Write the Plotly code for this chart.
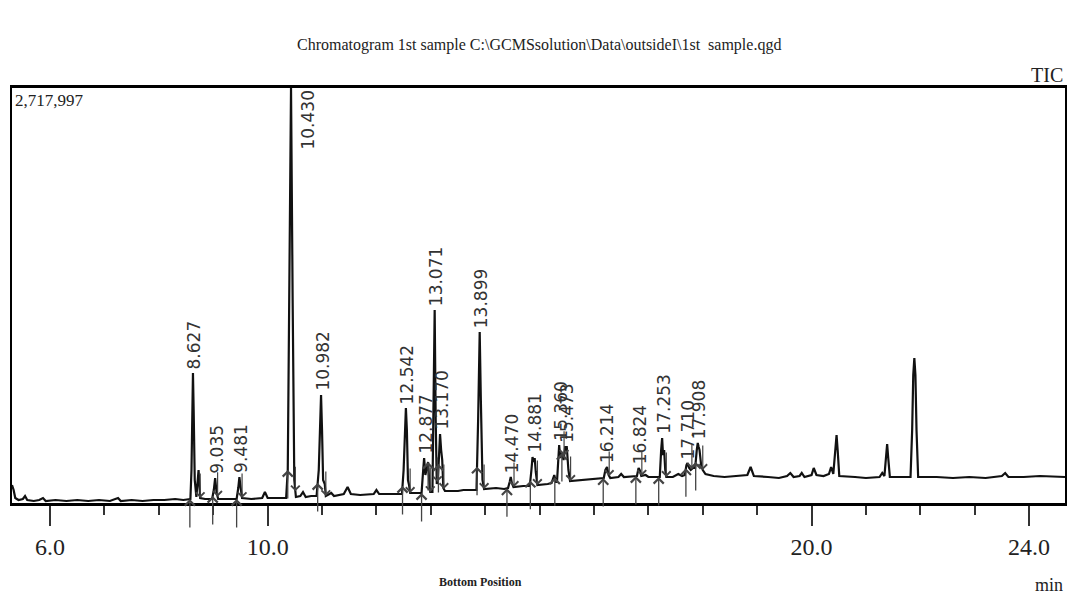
import numpy as np
import plotly.graph_objects as go

# ---------------- data ----------------
rt_min = [5.30, 5.33, 5.36, 5.42, 5.50, 5.54, 5.58, 5.70, 5.80, 5.87, 5.92, 6.10, 6.30, 6.50, 6.70,
          6.90, 7.10, 7.25, 7.30, 7.50, 7.70, 7.90, 8.10, 8.30, 8.45, 8.58, 8.60, 8.615, 8.627, 8.64,
          8.66, 8.69, 8.73, 8.76, 8.85, 8.98, 9.01, 9.035, 9.06, 9.09, 9.25, 9.43, 9.46, 9.481, 9.50,
          9.53, 9.70, 9.90, 9.95, 10.00, 10.25, 10.34, 10.37, 10.40, 10.43, 10.46, 10.49, 10.52, 10.60,
          10.65, 10.70, 10.80, 10.90, 10.94, 10.96, 10.982, 11.00, 11.02, 11.05, 11.07, 11.17, 11.22,
          11.40, 11.47, 11.53, 11.70, 11.95, 12.00, 12.05, 12.30, 12.47, 12.50, 12.525, 12.542, 12.56,
          12.58, 12.60, 12.62, 12.75, 12.83, 12.86, 12.877, 12.90, 12.95, 12.97, 12.99, 13.03, 13.05,
          13.071, 13.09, 13.11, 13.13, 13.155, 13.17, 13.19, 13.21, 13.23, 13.26, 13.50, 13.60, 13.70,
          13.84, 13.87, 13.899, 13.92, 13.95, 13.98, 14.20, 14.35, 14.42, 14.45, 14.47, 14.49, 14.52,
          14.70, 14.82, 14.85, 14.87, 14.89, 14.91, 14.93, 14.96, 15.15, 15.22, 15.27, 15.30, 15.32,
          15.345, 15.36, 15.38, 15.41, 15.44, 15.47, 15.50, 15.53, 15.56, 15.80, 16.00, 16.18, 16.21,
          16.24, 16.27, 16.30, 16.45, 16.50, 16.55, 16.70, 16.79, 16.82, 16.84, 16.87, 16.95, 17.00,
          17.10, 17.21, 17.235, 17.253, 17.27, 17.29, 17.31, 17.33, 17.45, 17.55, 17.62, 17.67, 17.70,
          17.72, 17.75, 17.78, 17.82, 17.86, 17.89, 17.908, 17.925, 17.94, 17.97, 18.00, 18.05, 18.20,
          18.40, 18.60, 18.82, 18.88, 18.94, 19.20, 19.40, 19.55, 19.61, 19.67, 19.78, 19.82, 19.87,
          20.00, 20.04, 20.09, 20.22, 20.32, 20.36, 20.40, 20.44, 20.46, 20.48, 20.51, 20.80, 21.00,
          21.25, 21.30, 21.34, 21.37, 21.39, 21.41, 21.44, 21.60, 21.82, 21.85, 21.87, 21.89, 21.91,
          21.93, 21.96, 22.30, 22.60, 22.90, 23.20, 23.50, 23.56, 23.62, 23.90, 24.20, 24.50, 24.66]

tic_counts = [117900, 85100, 32700, 19600, 26200, 45800, 19600, 13100, 19600, 32700, 13100, 19600, 13100, 19600, 13100,
              19600, 13100, 32700, 13100, 19600, 13100, 19600, 19600, 26200, 19600, 26200, 216100, 674500, 851400, 609100,
              150600, 39300, 216100, 32700, 26200, 26200, 85100, 163700, 72000, 26200, 26200, 26200, 98200, 170300, 111300,
              32700, 26200, 32700, 72000, 32700, 32700, 32700, 216100, 1656900, 2717997, 1329400, 150600, 39300, 45800,
              72000, 39300, 45800, 45800, 216100, 543600, 707300, 478100, 150600, 124400, 45800, 65500, 45800,
              58900, 104800, 58900, 52400, 58900, 85100, 58900, 58900, 58900, 216100, 543600, 622200, 478100,
              150600, 117900, 65500, 65500, 65500, 216100, 294700, 183400, 268500, 150600, 72000, 72000, 674500,
              1264000, 543600, 124400, 150600, 412600, 451900, 347100, 281600, 98200, 78600, 78600, 85100, 85100,
              85100, 543600, 1119900, 674500, 150600, 91700, 98200, 91700, 98200, 137500, 170300, 131000, 104800,
              111300, 111300, 216100, 301300, 268500, 294700, 203000, 117900, 124400, 131000, 183400, 137500, 137500,
              314400, 379800, 294700, 327500, 281600, 366700, 366700, 216100, 144100, 150600, 157200, 163700, 216100,
              235800, 183400, 163700, 170300, 189900, 170300, 176800, 176800, 229200, 216100, 176800, 183400, 170300,
              170300, 170300, 347100, 425700, 314400, 347100, 216100, 170300, 170300, 189900, 176800, 183400, 248900,
              262000, 229200, 216100, 229200, 229200, 347100, 392900, 366700, 347100, 248900, 216100, 189900, 176800,
              170300, 176800, 183400, 235800, 176800, 170300, 163700, 176800, 196500, 170300, 176800, 196500, 170300,
              183400, 229200, 183400, 176800, 189900, 235800, 189900, 347100, 445300, 347100, 176800, 170300, 163700,
              170300, 196500, 176800, 281600, 386400, 294700, 170300, 170300, 170300, 478100, 838300, 949600, 838300,
              478100, 170300, 170300, 163700, 170300, 163700, 176800, 196500, 170300, 170300, 176800, 170300, 170300]

peak_labels = ["8.627", "9.035", "9.481", "10.430", "10.982", "12.542", "12.877", "13.071", "13.170",
               "13.899", "14.470", "14.881", "15.360", "15.473", "16.214", "16.824", "17.253", "17.710", "17.908"]
peak_rt = [8.627, 9.035, 9.481, 10.430, 10.982, 12.542, 12.877, 13.071, 13.170,
           13.899, 14.470, 14.881, 15.360, 15.473, 16.214, 16.824, 17.253, 17.710, 17.908]
peak_top = [851400, 163700, 170300, 2717997, 707300, 622200, 294700, 1264000, 451900,
            1119900, 170300, 301300, 379800, 366700, 235800, 229200, 425700, 262000, 392900]
peak_start = [8.57, 8.99, 9.43, 10.37, 10.92, 12.48, 12.83, 12.95, 13.14,
              13.85, 14.40, 14.83, 15.28, 15.41, 16.17, 16.77, 17.19, 17.69, 17.87]
peak_end = [8.76, 9.08, 9.53, 10.51, 11.07, 12.62, 12.99, 13.12, 13.24,
            13.98, 14.53, 14.96, 15.45, 15.57, 16.28, 16.88, 17.33, 17.80, 18.00]

full_scale = 2717997
major_ticks = [6, 10, 20, 24]
major_text = ["6.0", "10.0", "20.0", "24.0"]
minor_ticks = [7, 8, 9, 11, 12, 13, 14, 15, 16, 17, 18, 19, 21, 22, 23]
x_range = [5.30, 24.66]

# ---------------- figure ----------------
fig = go.Figure()
fig.add_trace(go.Scatter(x=rt_min, y=tic_counts, mode="lines",
                         line=dict(color="#111111", width=2.2), hoverinfo="skip",
                         showlegend=False, cliponaxis=True))

ann = []
serif = "Liberation Serif"
label_font = dict(family="DejaVu Sans", size=17, color="#333")
# peak labels (rotated)
for lab, t, h in zip(peak_labels, peak_rt, peak_top):
    if h >= full_scale:
        ann.append(dict(x=t, y=h, xref="x", yref="y", text=lab, showarrow=False, textangle=-90,
                        xanchor="center", yanchor="top", xshift=16, yshift=-1, font=label_font))
    else:
        ann.append(dict(x=t, y=h, xref="x", yref="y", text=lab, showarrow=False, textangle=-90,
                        xanchor="center", yanchor="bottom", yshift=2, xshift=1, font=label_font))

# peak start (up arrows from below) and end (down arrows from above)
for t in peak_start:
    yv = float(np.interp(t, rt_min, tic_counts))
    ann.append(dict(x=t, y=yv, xref="x", yref="y", text="", showarrow=True, ax=0, ay=30,
                    arrowhead=4, arrowsize=1.5, arrowwidth=1.3, arrowcolor="#444"))
for t in peak_end:
    yv = float(np.interp(t, rt_min, tic_counts))
    ann.append(dict(x=t, y=yv, xref="x", yref="y", text="", showarrow=True, ax=0, ay=-26,
                    arrowhead=4, arrowsize=1.4, arrowwidth=1.2, arrowcolor="#444"))

# texts
ann.append(dict(x=0.5, y=1.104, xref="paper", yref="paper", showarrow=False,
                text="Chromatogram 1st sample C:\\GCMSsolution\\Data\\outsideI\\1st  sample.qgd",
                xanchor="center", yanchor="middle", font=dict(family=serif, size=16, color="#222")))
ann.append(dict(x=1.0, y=1.031, xref="paper", yref="paper", showarrow=False, text="TIC",
                xanchor="right", yanchor="middle", font=dict(family=serif, size=20, color="#222")))
ann.append(dict(x=0.0, y=0.969, xref="paper", yref="paper", showarrow=False, text="2,717,997",
                xanchor="left", yanchor="middle", xshift=1, font=dict(family=serif, size=17, color="#222")))
ann.append(dict(x=0.4445, y=-0.190, xref="paper", yref="paper", showarrow=False,
                text="<b>Bottom Position</b>", xanchor="center", yanchor="middle",
                font=dict(family=serif, size=12, color="#222")))
ann.append(dict(x=1.0, y=-0.198, xref="paper", yref="paper", showarrow=False, text="min",
                xanchor="right", yanchor="middle", font=dict(family=serif, size=18, color="#222")))

fig.update_layout(
    width=1071, height=594,
    margin=dict(l=12, r=4, t=88, b=91),
    paper_bgcolor="white", plot_bgcolor="white",
    showlegend=False,
    annotations=ann,
    xaxis=dict(range=x_range, showgrid=False, zeroline=False,
               showline=True, mirror=True, linecolor="black", linewidth=2.5,
               ticks="outside", tickvals=major_ticks, ticktext=major_text,
               ticklen=20, tickwidth=1.5, tickcolor="#333",
               tickfont=dict(family=serif, size=24, color="#222"),
               minor=dict(tickvals=minor_ticks, ticks="outside", ticklen=9, tickwidth=1.5, tickcolor="#333")),
    yaxis=dict(range=[0, full_scale], showgrid=False, zeroline=False, showticklabels=False,
               ticks="", showline=True, mirror=True, linecolor="black", linewidth=2),
)

fig.write_html("out.html", config={"displayModeBar": False},
               post_script="document.body.style.margin='0px';document.body.style.overflow='hidden';")
